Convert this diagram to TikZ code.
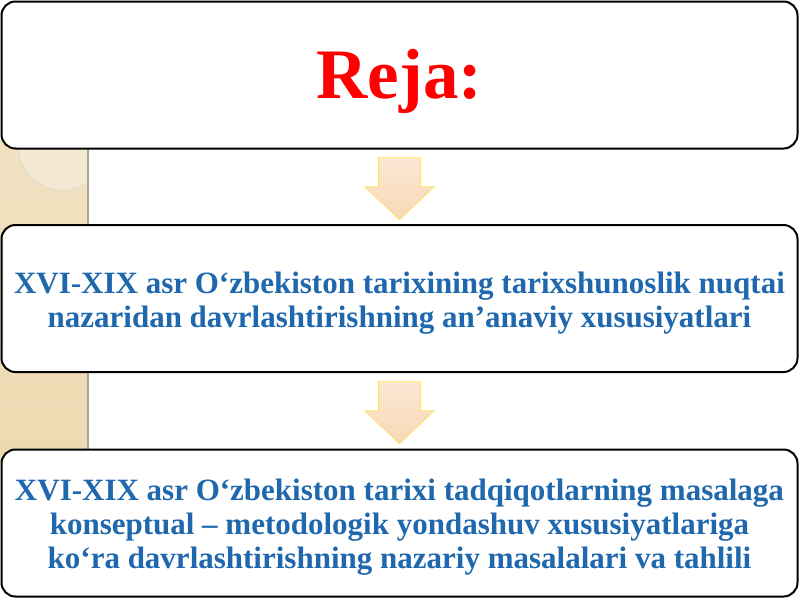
\documentclass[tikz,border=0pt]{standalone}
\usepackage{fontspec}
\setmainfont{Liberation Serif}
\usepackage{tikz}
\usetikzlibrary{positioning,calc,shapes.geometric}

\definecolor{rejared}{RGB}{255,0,0}
\definecolor{planblue}{RGB}{31,104,173}
\definecolor{stripbeige}{RGB}{237,218,178}
\definecolor{arrowpeach}{RGB}{248,216,182}

\tikzset{
  planbox/.style={draw=black, line width=2pt, fill=white, rounded corners=14pt,
    minimum width=796pt, minimum height=147pt, inner sep=0pt},
  plantext/.style={font=\fontsize{31}{34}\selectfont\bfseries, text=planblue, align=center},
  blockarrow/.style={top color=arrowpeach!60, bottom color=arrowpeach,
    draw=yellow!60!arrowpeach, line width=0.6pt}
}

\begin{document}
\begin{tikzpicture}[x=1pt, y=-1pt]

\useasboundingbox (0,0) rectangle (800,600);

%\draw [help lines, step=50pt](0,0) grid (800,600);
\fill [top color=stripbeige!80, bottom color=stripbeige] (0,140) rectangle (88,460);
\begin{scope}
\clip (0,140) rectangle (88,460);
\fill [white, opacity=0.3] (63,145) circle (45);
\draw [gray!30, line width=0.6pt] (63,145) circle (45);
\end{scope}
\draw [gray!60!stripbeige, line width=1.5pt] (88,140) -- (88,460);

% boxes
\node [planbox] (reja) at (399.5,75) {};
\node [planbox] (topic1) at (399.5,298.5) {};
\node [planbox] (topic2) at (399.5,523) {};

% texts
\node [anchor=base, font=\fontsize{71}{74}\selectfont\bfseries, text=rejared] (rejatext) at ($(reja.center)+(0,23)$) {Reja:};
\node [plantext] (topic1text) at ($(topic1.center)+(0,4.5)$) {XVI-XIX asr O‘zbekiston tarixining tarixshunoslik nuqtai\\nazaridan davrlashtirishning an’anaviy xususiyatlari};
\node [plantext] (topic2text) at ($(topic2.center)+(0,4)$) {XVI-XIX asr O‘zbekiston tarixi tadqiqotlarning masalaga\\konseptual -- metodologik yondashuv xususiyatlariga\\ko‘ra davrlashtirishning nazariy masalalari va tahlili};

% arrows
\coordinate (m1) at ($(reja.south)!0.5!(topic1.north)$);
\coordinate (m2) at ($(topic1.south)!0.5!(topic2.north)$);

\foreach \m in {m1,m2}
  \draw [blockarrow] ($(\m)+(-21,-29)$) -- ++(42,0) -- ++(0,29) -- ++(14,0) -- ($(\m)+(0,33)$) -- ($(\m)+(-35,0)$) -- ++(14,0) -- cycle;

\end{tikzpicture}
\end{document}
